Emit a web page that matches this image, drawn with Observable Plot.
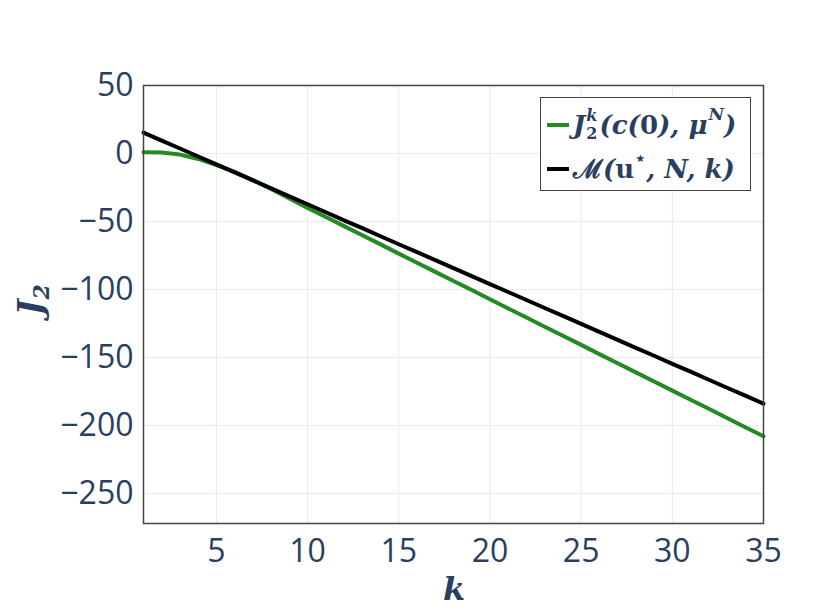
<!DOCTYPE html>
<html><head><meta charset="utf-8">
<script src="https://cdn.jsdelivr.net/npm/d3@7"></script>
<script src="https://cdn.jsdelivr.net/npm/@observablehq/plot@0.6"></script>
<style>
body{margin:0;background:#fff}
#wrap{position:relative;width:831px;height:610px}
.leg{position:absolute;left:540px;top:97px;width:211px;height:94px;border:1px solid #444;background:#fff;
 font-family:"DejaVu Serif",serif;font-weight:bold;font-style:italic;color:#2a3f5f;font-size:26px;box-sizing:border-box}
.row{position:absolute;left:0;height:46px;width:100%;white-space:nowrap}
.sw{position:absolute;left:6px;width:22px;height:4px}
.tx{position:absolute;left:32px;top:0;line-height:46px;display:flex;align-items:center;height:46px}
.ss{display:inline-flex;flex-direction:column;line-height:18px;font-size:16px;margin:0 2px 0 1px}
.up{font-style:normal}
.sp{font-size:17px;position:relative;top:-11px;margin-left:1px}
</style></head><body>
<div id="wrap"></div>
<script>
const ks = [1,2,3,4,5,6,7,8,9,10,11,12,13,14,15,16,17,18,19,20,21,22,23,24,25,26,27,28,29,30,31,32,33,34,35];
const J2k = [1,0.8,-0.8,-4,-8.5,-13.5,-19.5,-26,-33,-40,-46.7,-53.4,-60.1,-66.8,-73.6,-80.3,-87,-93.7,-100.4,-107.2,-113.9,-120.6,-127.3,-134,-140.7,-147.5,-154.2,-160.9,-167.6,-174.3,-181,-187.7,-194.5,-201.2,-207.9];
const Mvals = [15.4,9.5,3.7,-2.2,-8.0,-13.9,-19.8,-25.6,-31.5,-37.3,-43.2,-49.1,-54.9,-60.8,-66.7,-72.5,-78.4,-84.2,-90.1,-96.0,-101.8,-107.7,-113.6,-119.4,-125.3,-131.1,-137.0,-142.9,-148.7,-154.6,-160.4,-166.3,-172.2,-178.0,-183.9];
const xTicks = [5,10,15,20,25,30,35];
const yTicks = [50,0,-50,-100,-150,-200,-250];

const dataJ = ks.map((k,i)=>({k, v:J2k[i]}));
const dataM = ks.map((k,i)=>({k, v:Mvals[i]}));
const fmt = d => d < 0 ? "\u2212" + Math.abs(d) : String(d);

const plot = Plot.plot({
  width: 831, height: 610,
  marginLeft: 143, marginRight: 68, marginTop: 85, marginBottom: 87,
  style: {fontFamily: "'Open Sans', sans-serif", fontSize: "32px", color: "#2a3f5f", background: "#fff"},
  x: {domain: [1,35], label: null},
  y: {domain: [-272,50], label: null},
  marks: [
    Plot.gridX(xTicks, {stroke: "#ebebeb", strokeOpacity: 1, strokeWidth: 1}),
    Plot.gridY(yTicks, {stroke: "#ebebeb", strokeOpacity: 1, strokeWidth: 1}),
    Plot.line(dataJ, {x: "k", y: "v", stroke: "#228b22", strokeWidth: 4}),
    Plot.line(dataM, {x: "k", y: "v", stroke: "#000", strokeWidth: 4}),
    Plot.frame({stroke: "#444", strokeWidth: 1.5}),
    Plot.axisX({ticks: xTicks, tickFormat: fmt, tickSize: 0, tickPadding: 16, fill:"#2a3f5f", label: null}),
    Plot.axisY({ticks: yTicks, tickFormat: fmt, tickSize: 0, tickPadding: 10, fill:"#2a3f5f", label: null})
  ]
});
document.getElementById("wrap").appendChild(plot);

const svg = d3.select(plot);
svg.append("text").attr("x", 454).attr("y", 600).attr("text-anchor","middle")
  .attr("font-family","'DejaVu Serif', serif").attr("font-weight","bold").attr("font-style","italic")
  .attr("font-size", 32).attr("fill","#2a3f5f").text("k");
const yt = svg.append("text").attr("transform","translate(42,300) rotate(-90)").attr("text-anchor","middle")
  .attr("font-family","'DejaVu Serif', serif").attr("font-weight","bold").attr("font-style","italic")
  .attr("font-size", 34).attr("fill","#2a3f5f");
yt.append("tspan").text("J");
yt.append("tspan").attr("font-size",22).attr("dy",7).text("2");

const leg = document.createElement("div");
leg.className = "leg";
leg.innerHTML = `
<div class="row" style="top:4px"><div class="sw" style="top:21px;background:#228b22"></div>
<div class="tx">J<span class="ss"><span>k</span><span class="up">2</span></span>(c(<span class="up">0</span>),&nbsp;μ<span class="sp">N</span>)</div></div>
<div class="row" style="top:48px"><div class="sw" style="top:21px;background:#000"></div>
<div class="tx"><span class="up">ℳ</span>(<span class="up">u</span><span class="sp up">⋆</span>,&nbsp;N,&nbsp;k)</div></div>`;
document.getElementById("wrap").appendChild(leg);
</script>
</body></html>
